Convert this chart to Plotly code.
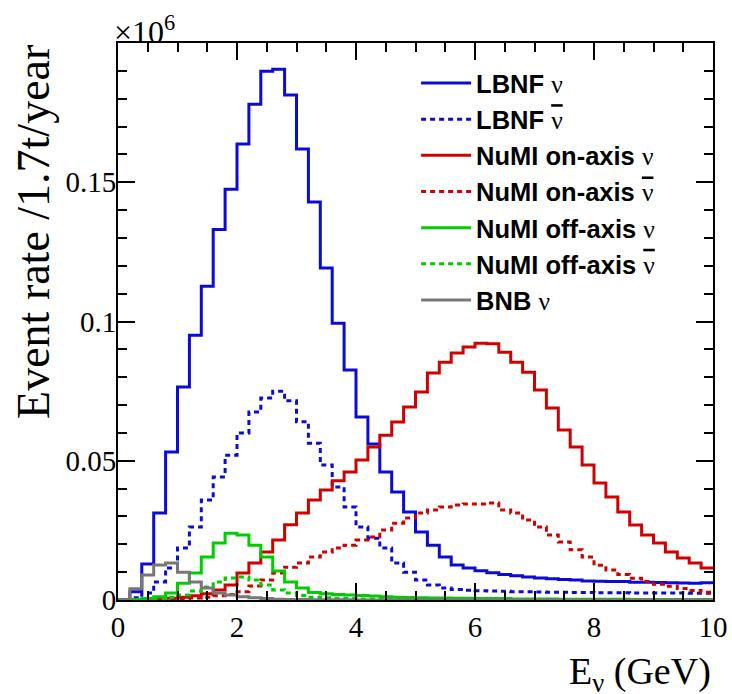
import plotly.graph_objects as go

# Bin edges: 50 bins of 0.2 GeV from 0 to 10 GeV
bin_width = 0.2
n_bins = 50
edges = [round(i * bin_width, 2) for i in range(n_bins + 1)]

# Event rates in units of 10^6 events / 1.7 t / year
lbnf_nu = [0.0, 0.003, 0.0129, 0.0312, 0.0531, 0.0765, 0.0951, 0.1127, 0.133, 0.1475,
           0.1637, 0.178, 0.1899, 0.1906, 0.1813, 0.1619, 0.1429, 0.1192, 0.0994, 0.0826,
           0.0657, 0.056, 0.046, 0.0388, 0.0316, 0.0244, 0.0197, 0.0154, 0.0126, 0.0115,
           0.0105, 0.0098, 0.0092, 0.0087, 0.0083, 0.0079, 0.0076, 0.0074, 0.0072, 0.0068,
           0.0067, 0.0066, 0.0066, 0.0064, 0.0064, 0.0063, 0.0062, 0.0061, 0.006, 0.0062]
lbnf_nubar = [0.0, 0.0008, 0.0025, 0.0065, 0.0115, 0.0187, 0.0262, 0.0359, 0.0442, 0.052,
              0.060, 0.0675, 0.0725, 0.075, 0.0715, 0.064, 0.0563, 0.0485, 0.0406, 0.0334,
              0.0262, 0.0222, 0.0187, 0.0133, 0.010, 0.0072, 0.0054, 0.0043, 0.0038, 0.0035,
              0.0033, 0.0032, 0.0031, 0.003, 0.003, 0.0029, 0.0028, 0.0028, 0.0027, 0.0027,
              0.0026, 0.0026, 0.0026, 0.0025, 0.0025, 0.0025, 0.0025, 0.0025, 0.0024, 0.0024]
numi_on_nu = [0.0, 0.0, 0.0002, 0.0004, 0.0006, 0.001, 0.0015, 0.0022, 0.0036, 0.0054,
              0.0097, 0.0133, 0.0172, 0.0215, 0.027, 0.0312, 0.0359, 0.0395, 0.0428, 0.046,
              0.0503, 0.0549, 0.0592, 0.0639, 0.0693, 0.0747, 0.0815, 0.0854, 0.0887, 0.0908,
              0.0922, 0.0920, 0.089, 0.0854, 0.0818, 0.0754, 0.0689, 0.061, 0.0549, 0.0485,
              0.042, 0.037, 0.0316, 0.0269, 0.0233, 0.0205, 0.0172, 0.0151, 0.0133, 0.0115]
numi_on_nubar = [0.0, 0.0, 0.0001, 0.0002, 0.0003, 0.0005, 0.0007, 0.001, 0.0015, 0.002,
                 0.003, 0.005, 0.0072, 0.0097, 0.0118, 0.0133, 0.0154, 0.0172, 0.0187, 0.0197,
                 0.0215, 0.0226, 0.0251, 0.0276, 0.0294, 0.0312, 0.0323, 0.0334, 0.0341, 0.0345,
                 0.0345, 0.0348, 0.0323, 0.0312, 0.0287, 0.0262, 0.0233, 0.0208, 0.018, 0.0154,
                 0.0125, 0.0108, 0.0092, 0.0078, 0.0066, 0.0057, 0.0049, 0.0041, 0.0034, 0.0028]
numi_off_nu = [0.0, 0.0002, 0.0005, 0.0012, 0.0025, 0.006, 0.0097, 0.0154, 0.0205, 0.024,
               0.0233, 0.0197, 0.0154, 0.0104, 0.0065, 0.0043, 0.0027, 0.0022, 0.002, 0.0018,
               0.0016, 0.0014, 0.0012, 0.001, 0.0009, 0.0008, 0.0007, 0.0007, 0.0006, 0.0006,
               0.0005, 0.0005, 0.0005, 0.0004, 0.0004, 0.0004, 0.0004, 0.0003, 0.0003, 0.0003,
               0.0003, 0.0003, 0.0003, 0.0002, 0.0002, 0.0002, 0.0002, 0.0002, 0.0002, 0.0002]
numi_off_nubar = [0.0, 0.0001, 0.0002, 0.0005, 0.001, 0.0018, 0.0032, 0.0047, 0.0065, 0.0079,
                  0.0083, 0.0072, 0.0054, 0.0036, 0.0025, 0.0016, 0.001, 0.0008, 0.0006, 0.0005,
                  0.0004, 0.0004, 0.0003, 0.0003, 0.0003, 0.0002, 0.0002, 0.0002, 0.0002, 0.0002,
                  0.0001, 0.0001, 0.0001, 0.0001, 0.0001, 0.0001, 0.0001, 0.0001, 0.0001, 0.0001,
                  0.0001, 0.0001, 0.0001, 0.0001, 0.0001, 0.0001, 0.0001, 0.0001, 0.0001, 0.0001]
bnb_nu = [0.0, 0.004, 0.009, 0.0126, 0.0133, 0.010, 0.0065, 0.0043, 0.0025, 0.0018,
          0.0012, 0.0008, 0.0005, 0.0003, 0.0002, 0.0002, 0.0001, 0.0001, 0.0001, 0.0001,
          0.0, 0.0, 0.0, 0.0, 0.0, 0.0, 0.0, 0.0, 0.0, 0.0,
          0.0, 0.0, 0.0, 0.0, 0.0, 0.0, 0.0, 0.0, 0.0, 0.0,
          0.0, 0.0, 0.0, 0.0, 0.0, 0.0, 0.0, 0.0, 0.0, 0.0]

NU = "<span style='font-family:Liberation Serif;font-weight:normal'>ν</span>"
NUBAR = ("<span style='font-family:Liberation Serif;font-weight:normal;"
         "text-decoration:overline'>ν</span>")

series = [
    ("<b>LBNF</b> " + NU, lbnf_nu, "#0b0bd6", "solid"),
    ("<b>LBNF</b> " + NUBAR, lbnf_nubar, "#0b0bd6", "5px,4px"),
    ("<b>NuMI on-axis</b> " + NU, numi_on_nu, "#d00000", "solid"),
    ("<b>NuMI on-axis</b> " + NUBAR, numi_on_nubar, "#d00000", "5px,4px"),
    ("<b>NuMI off-axis</b> " + NU, numi_off_nu, "#00cc00", "solid"),
    ("<b>NuMI off-axis</b> " + NUBAR, numi_off_nubar, "#00cc00", "5px,4px"),
    ("<b>BNB</b> " + NU, bnb_nu, "#777777", "solid"),
]

fig = go.Figure()
for i, (name, vals, color, dash) in enumerate(series):
    fig.add_trace(go.Scatter(
        x=edges, y=list(vals) + [vals[-1]],
        mode="lines", line=dict(shape="hv", color=color, width=3, dash=dash),
        name=name, legendgroup=f"g{i}",
    ))

axis_font = dict(family="Liberation Serif", size=29, color="black")

fig.update_layout(
    width=732, height=694,
    margin=dict(l=118, r=19, t=43, b=94, autoexpand=False),
    paper_bgcolor="white", plot_bgcolor="white",
    showlegend=True,
    legend=dict(
        x=0.501, y=0.9695, xanchor="left", yanchor="top",
        font=dict(family="Liberation Sans", size=25.5, color="black"),
        bgcolor="rgba(0,0,0,0)", tracegroupgap=0, itemwidth=50,
    ),
    xaxis=dict(
        range=[0, 10], tickmode="array", tickvals=[0, 2, 4, 6, 8, 10],
        ticks="inside", ticklen=17, tickwidth=2, tickcolor="black",
        showline=True, linecolor="black", linewidth=2, mirror="allticks",
        showgrid=False, zeroline=False, tickfont=axis_font, automargin=False,
        ticklabeloverflow="allow",
        minor=dict(dtick=0.5, tick0=0, ticks="inside", ticklen=9, tickwidth=2,
                   tickcolor="black", showgrid=False),
    ),
    yaxis=dict(
        range=[0, 0.2], tickmode="array", tickvals=[0, 0.05, 0.1, 0.15],
        ticktext=["0", "0.05", "0.1", "0.15"],
        ticks="inside", ticklen=17, tickwidth=2, tickcolor="black",
        showline=True, linecolor="black", linewidth=2, mirror="allticks",
        showgrid=False, zeroline=False, tickfont=axis_font, ticklabelstandoff=-6,
        automargin=False,
        minor=dict(dtick=0.01, tick0=0, ticks="inside", ticklen=9, tickwidth=2,
                   tickcolor="black", showgrid=False),
    ),
    annotations=[
        dict(text="E<sub>ν</sub> (GeV)", xref="paper", yref="paper",
             x=1.0, y=-0.133, xanchor="right", yanchor="middle", showarrow=False,
             font=dict(family="Liberation Serif", size=38, color="black")),
        dict(text="Event rate /1.7t/year", xref="paper", yref="paper",
             x=-0.143, y=1.0, xanchor="center", yanchor="top", textangle=-90,
             showarrow=False,
             font=dict(family="Liberation Serif", size=46, color="black")),
        dict(text="×10<sup>6</sup>", xref="paper", yref="paper",
             x=-0.01, y=0.983, xanchor="left", yanchor="bottom", showarrow=False,
             font=dict(family="Liberation Serif", size=32, color="black")),
    ],
)

fig.write_html(
    "out.html",
    config={"displayModeBar": False},
    post_script="document.body.style.margin='0';document.body.style.overflow='hidden';",
)
